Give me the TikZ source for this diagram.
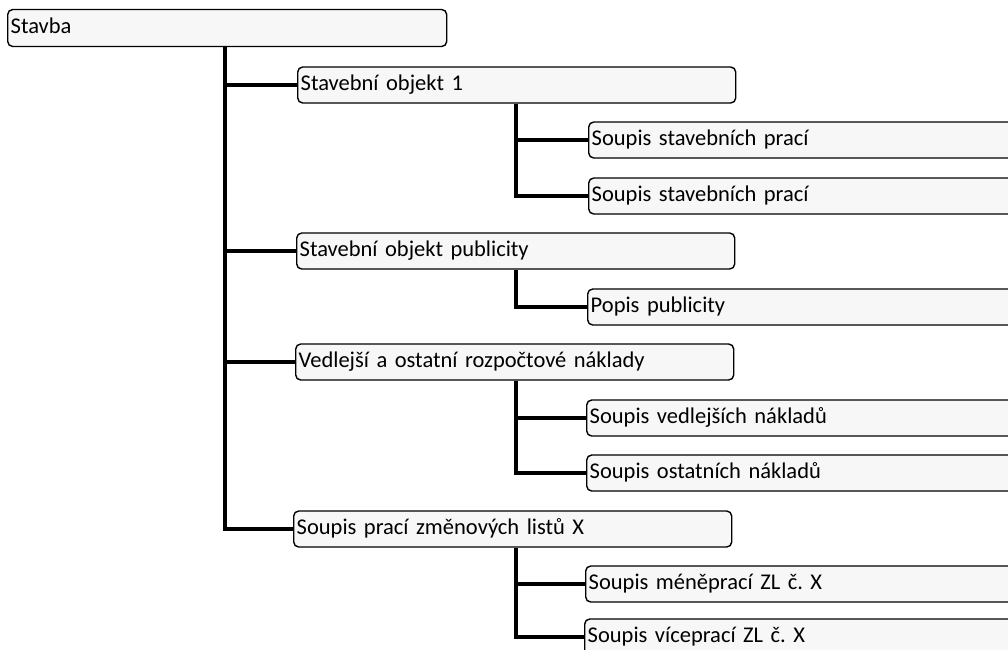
\documentclass[tikz,border=0pt]{standalone}
\usepackage{fontspec}
\setmainfont{Carlito}
\usetikzlibrary{backgrounds}
\begin{document}
\frenchspacing
\begin{tikzpicture}[x=1pt,y=-1pt,
  box/.style={draw=black, line width=1.4pt, rounded corners=5pt, fill=black!3,
    anchor=west, minimum height=36pt, inner xsep=3pt, inner ysep=0pt, align=left,
    font=\fontsize{22.5}{26}\selectfont, text height=15pt, text depth=4pt},
  rootbox/.style={box, text width=433pt, minimum height=37pt},
  lvlone/.style={box, text width=432pt},
  lvltwo/.style={box, text width=440pt},
  conn/.style={draw=black, line width=4.6pt, line join=miter}]
\clip (0,0) rectangle (1008,649);
\coordinate (ta) at (225,0);
\coordinate (tb) at (516,0);
\node[rootbox] (stavba) at (7,28) {Stavba};
\node[lvlone] (so1) at (297,85) {Stavební objekt 1};
\node[lvltwo] (sp1) at (588,140) {Soupis stavebních prací};
\node[lvltwo] (sp2) at (588,196) {Soupis stavebních prací};
\node[lvlone] (sop) at (296,251) {Stavební objekt publicity};
\node[lvltwo] (pp) at (587,307) {Popis publicity};
\node[lvlone] (von) at (295,362) {Vedlejší a ostatní rozpočtové náklady};
\node[lvltwo] (svn) at (586,418) {Soupis vedlejších nákladů};
\node[lvltwo] (son) at (586,473) {Soupis ostatních nákladů};
\node[lvlone] (zl) at (293,529) {Soupis prací změnových listů X};
\node[lvltwo] (mp) at (585,584) {Soupis méněprací ZL č. X};
\node[lvltwo] (vp) at (584,637) {Soupis víceprací ZL č. X};
\begin{scope}[on background layer]
\draw[conn] (stavba.south -| ta) |- (so1.west);
\draw[conn] (stavba.south -| ta) |- (sop.west);
\draw[conn] (stavba.south -| ta) |- (von.west);
\draw[conn] (stavba.south -| ta) |- (zl.west);
\draw[conn] (so1.south -| tb) |- (sp1.west);
\draw[conn] (so1.south -| tb) |- (sp2.west);
\draw[conn] (sop.south -| tb) |- (pp.west);
\draw[conn] (von.south -| tb) |- (svn.west);
\draw[conn] (von.south -| tb) |- (son.west);
\draw[conn] (zl.south -| tb) |- (mp.west);
\draw[conn] (zl.south -| tb) |- (vp.west);
\end{scope}
\end{tikzpicture}
\end{document}
